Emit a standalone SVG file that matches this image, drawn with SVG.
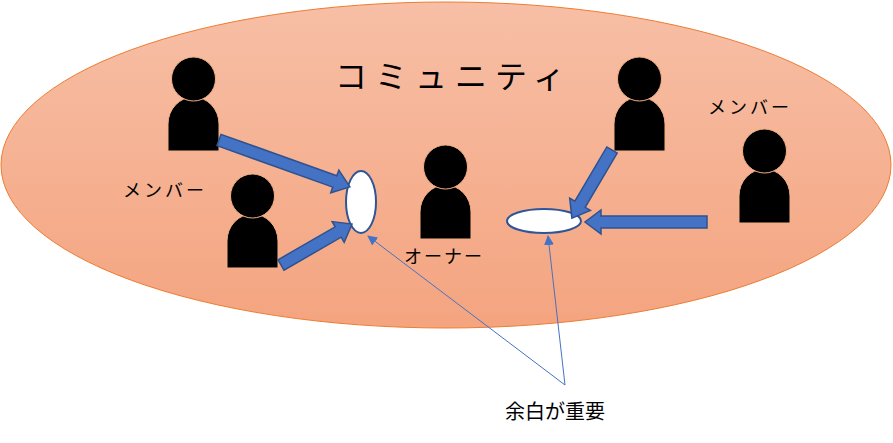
<svg xmlns="http://www.w3.org/2000/svg" width="893" height="443" viewBox="0 0 893 443">
<style>
.t{font-family:"Noto Sans CJK JP","Noto Sans",sans-serif;fill:#000}
.head,.body{fill:#000;stroke:#F4B183;stroke-width:1}
.ar{fill:#4472C4;stroke:#2F528F;stroke-width:1.5}
.sp{fill:#fff;stroke:#2F5597;stroke-width:2}
.ln{stroke:#4472C4;stroke-width:1;fill:none;marker-end:url(#m)}
</style>
<defs>
<linearGradient id="g" x1="0" y1="0" x2="0" y2="1"><stop offset="0" stop-color="#F7BFA6"/><stop offset="1" stop-color="#F4A47F"/></linearGradient>
<marker id="m" markerWidth="10" markerHeight="10" refX="9" refY="5" orient="auto" markerUnits="userSpaceOnUse"><path d="M0,0 L10,5 L0,10 Z" fill="#4472C4"/></marker>
<g id="p"><path class="body" d="M0,53 V26 A25.5,27 0 0 1 51,26 V53 Z"/><circle class="head" cx="25.5" cy="-19" r="22"/></g>
</defs>
<g id="community"><ellipse cx="446" cy="165" rx="445" ry="163" fill="url(#g)" stroke="#ED7D31" stroke-width="1"/>
<text class="t" x="335" y="88" font-size="32" letter-spacing="8">コミュニティ</text></g>
<g id="member1"><use href="#p" x="168" y="98"/></g>
<g id="member2"><use href="#p" x="227" y="215"/><text class="t" x="123" y="197" font-size="18" letter-spacing="3">メンバー</text></g>
<g id="owner"><use href="#p" x="420" y="186"/><text class="t" x="404" y="263" font-size="18" letter-spacing="2">オーナー</text></g>
<g id="member3"><use href="#p" x="614" y="98"/></g>
<g id="member4"><use href="#p" x="739" y="170"/><text class="t" x="708" y="114" font-size="18" letter-spacing="3">メンバー</text></g>
<g id="space1"><ellipse class="sp" cx="361" cy="202" rx="15" ry="31"/></g>
<g id="space2"><ellipse class="sp" cx="544" cy="221" rx="37" ry="12"/></g>
<g id="connectors">
<path class="ar" transform="translate(219,140) rotate(19.7)" d="M0,-6 H123 V-12 L139,0 L123,12 V6 H0 Z"/>
<path class="ar" transform="translate(281,265) rotate(-30)" d="M0,-6 H66 V-12 L82,0 L66,12 V6 H0 Z"/>
<path class="ar" transform="translate(612,150) rotate(120.5)" d="M0,-6 H63 V-12 L79,0 L63,12 V6 H0 Z"/>
<path class="ar" transform="translate(707,222) rotate(180)" d="M0,-6 H106 V-12 L122,0 L106,12 V6 H0 Z"/>
<line class="ln" x1="565" y1="385" x2="368" y2="236"/>
<line class="ln" x1="565" y1="385" x2="548" y2="236"/>
</g>
<g id="note"><text class="t" x="505" y="419" font-size="20">余白が重要</text></g>
</svg>
